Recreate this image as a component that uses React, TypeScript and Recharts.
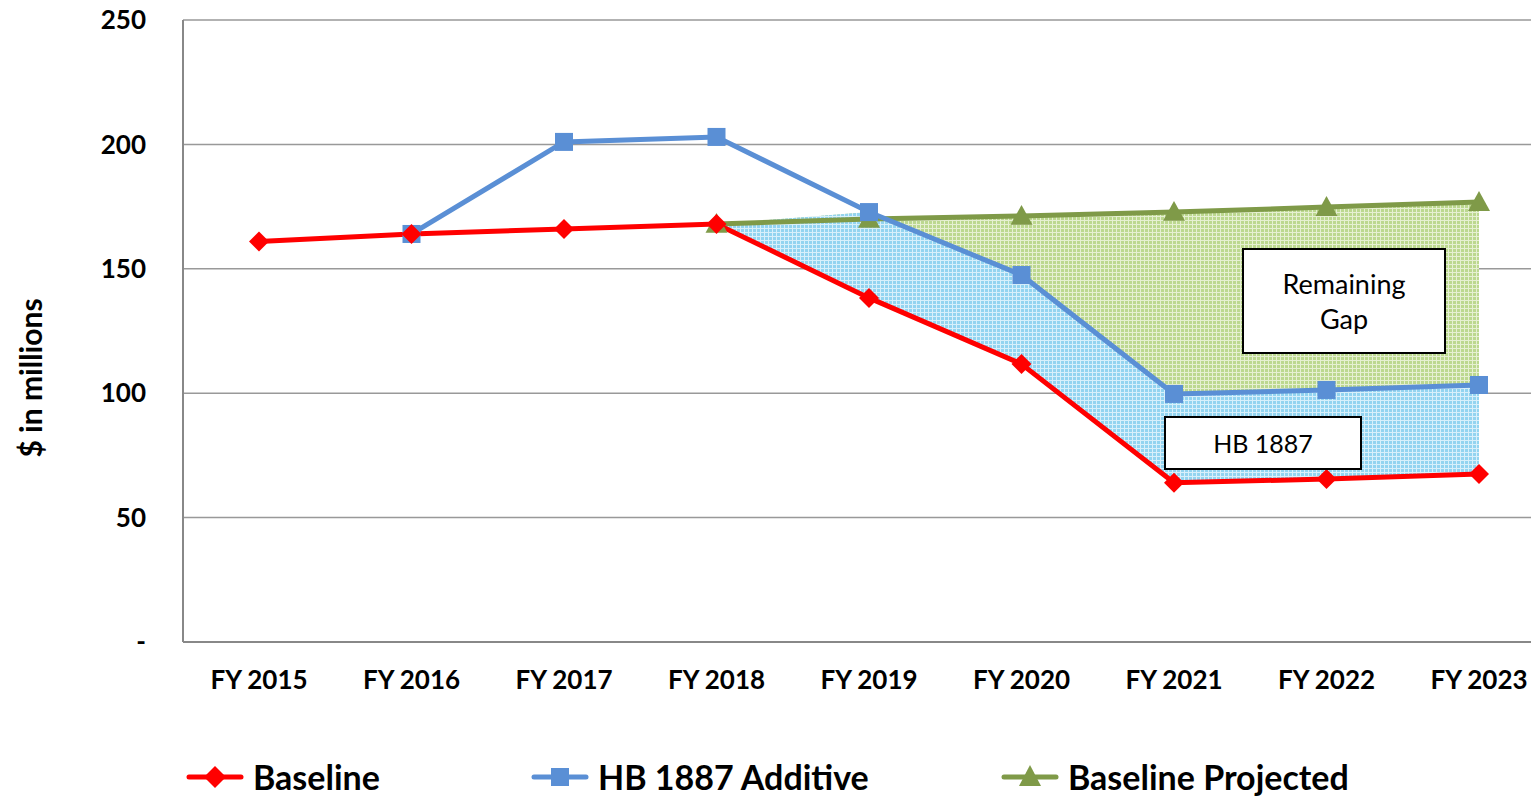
import React from "react"
import {
  Area,
  CartesianGrid,
  ComposedChart,
  Line,
  XAxis,
  YAxis,
} from "recharts"

const years = [
  "FY 2015",
  "FY 2016",
  "FY 2017",
  "FY 2018",
  "FY 2019",
  "FY 2020",
  "FY 2021",
  "FY 2022",
  "FY 2023",
]

const baseline = [161, 164, 166, 168, 138.3, 111.7, 64, 65.5, 67.5]
const hbAdditive = [null, 164, 201, 203, 172.8, 147.5, 99.7, 101.3, 103.3]
const projected = [null, null, null, 168, 170, 171.2, 172.8, 174.8, 176.8]
// top of the shaded HB 1887 band (starts where the projection starts)
const hbBandTop = [null, null, null, 168, 172.8, 147.5, 99.7, 101.3, 103.3]

const yTicks = [0, 50, 100, 150, 200, 250]

const RED = "#ff0000"
const BLUE = "#5a8fd5"
const GREEN = "#7f9a48"
const FONT = "Lato, 'Open Sans', sans-serif"

const data = years.map((name, i) => ({
  name,
  baseline: baseline[i],
  hb: hbAdditive[i],
  projected: projected[i],
  hbBand: hbBandTop[i] == null ? null : [baseline[i], hbBandTop[i]],
  gapBand:
    hbBandTop[i] == null || projected[i] == null
      ? null
      : [hbBandTop[i], projected[i]],
}))

const Diamond = (props: any) => {
  const { cx, cy, index } = props
  if (cx == null || cy == null || props.value == null) return <g key={index} />
  const s = 10
  return (
    <path
      key={index}
      d={`M${cx},${cy - s} L${cx + s},${cy} L${cx},${cy + s} L${cx - s},${cy} Z`}
      fill={RED}
    />
  )
}

const Square = (props: any) => {
  const { cx, cy, index } = props
  if (cx == null || cy == null || props.value == null) return <g key={index} />
  const s = 9
  return <rect key={index} x={cx - s} y={cy - s} width={s * 2} height={s * 2} fill={BLUE} />
}

const Triangle = (props: any) => {
  const { cx, cy, index } = props
  if (cx == null || cy == null || props.value == null) return <g key={index} />
  const s = 11
  return (
    <path
      key={index}
      d={`M${cx},${cy - s} L${cx + s},${cy + s * 0.8} L${cx - s},${cy + s * 0.8} Z`}
      fill={GREEN}
    />
  )
}

const legendItems = [
  { label: "Baseline", color: RED, shape: "diamond", left: 178 },
  { label: "HB 1887 Additive", color: BLUE, shape: "square", left: 523 },
  { label: "Baseline Projected", color: GREEN, shape: "triangle", left: 993 },
]

function LegendIcon({ color, shape }: { color: string; shape: string }) {
  return (
    <svg width={58} height={30} style={{ display: "block" }}>
      <line x1={3} y1={15} x2={55} y2={15} stroke={color} strokeWidth={5} strokeLinecap="round" />
      {shape === "diamond" && <path d="M29,4 L40,15 L29,26 L18,15 Z" fill={color} />}
      {shape === "square" && <rect x={20} y={6} width={18} height={18} fill={color} />}
      {shape === "triangle" && <path d="M29,3 L40,24 L18,24 Z" fill={color} />}
    </svg>
  )
}

const boxStyle: React.CSSProperties = {
  position: "absolute",
  background: "#fff",
  border: "2px solid #000",
  boxSizing: "border-box",
  display: "flex",
  alignItems: "center",
  justifyContent: "center",
  textAlign: "center",
  fontFamily: FONT,
  lineHeight: "35px",
  color: "#000",
}

export default function App() {
  return (
    <div
      style={{
        position: "relative",
        width: 1531,
        height: 797,
        marginTop: -8,
        overflow: "hidden",
        background: "#fff",
        fontFamily: FONT,
      }}
    >
      <ComposedChart
        width={1547}
        height={708}
        data={data}
        margin={{ top: 20, right: 0, bottom: 0, left: 0 }}
        style={{ fontFamily: FONT }}
      >
        <defs>
          <pattern id="bluePat" width={4} height={4} patternUnits="userSpaceOnUse">
            <rect width={4} height={4} fill="#93d4f0" />
            <rect width={4} height={1} fill="#d8f0fb" />
            <rect width={1} height={4} fill="#d8f0fb" />
          </pattern>
          <pattern id="greenPat" width={4} height={4} patternUnits="userSpaceOnUse">
            <rect width={4} height={4} fill="#bcd88f" />
            <rect width={4} height={1} fill="#e6f0d2" />
            <rect width={1} height={4} fill="#e6f0d2" />
          </pattern>
        </defs>
        <CartesianGrid vertical={false} stroke="#999" strokeWidth={1.5} />
        <XAxis
          dataKey="name"
          axisLine={{ stroke: "#888", strokeWidth: 2 }}
          tickLine={false}
          tickSize={0}
          tickMargin={29}
          height={66}
          interval={0}
          padding={{ left: 76, right: 76 }}
          tick={{ fontSize: 26, fontWeight: 700, fill: "#000", fontFamily: FONT }}
        />
        <YAxis
          domain={[0, 250]}
          ticks={yTicks}
          width={175}
          axisLine={{ stroke: "#888", strokeWidth: 2 }}
          tickLine={false}
          tickSize={0}
          tickMargin={37}
          tickFormatter={(v: number) => (v === 0 ? "-" : String(v))}
          tick={{ fontSize: 26, fontWeight: 700, fill: "#000", fontFamily: FONT }}
        />
        <Area
          dataKey="gapBand"
          stroke="none"
          fill="url(#greenPat)"
          fillOpacity={1}
          isAnimationActive={false}
          connectNulls={false}
        />
        <Area
          dataKey="hbBand"
          stroke="none"
          fill="url(#bluePat)"
          fillOpacity={1}
          isAnimationActive={false}
          connectNulls={false}
        />
        <Line
          dataKey="projected"
          stroke={GREEN}
          strokeWidth={5}
          dot={Triangle}
          activeDot={false}
          isAnimationActive={false}
        />
        <Line
          dataKey="hb"
          stroke={BLUE}
          strokeWidth={5}
          dot={Square}
          activeDot={false}
          isAnimationActive={false}
        />
        <Line
          dataKey="baseline"
          stroke={RED}
          strokeWidth={5}
          dot={Diamond}
          activeDot={false}
          isAnimationActive={false}
        />
      </ComposedChart>

      <div
        style={{
          position: "absolute",
          left: 22,
          top: 378,
          transform: "translate(-50%, -50%) rotate(-90deg)",
          whiteSpace: "nowrap",
          fontSize: 30,
          fontWeight: 700,
          color: "#000",
        }}
      >
        $ in millions
      </div>

      <div style={{ ...boxStyle, left: 1234, top: 248, width: 204, height: 106, fontSize: 27 }}>
        Remaining
        <br />
        Gap
      </div>
      <div style={{ ...boxStyle, left: 1156, top: 416, width: 198, height: 54, fontSize: 25 }}>
        HB 1887
      </div>

      {legendItems.map((it) => (
        <div
          key={it.label}
          style={{
            position: "absolute",
            left: it.left,
            top: 760,
            height: 34,
            display: "flex",
            alignItems: "center",
            gap: 9,
            fontSize: 34,
            lineHeight: "34px",
            fontWeight: 700,
            color: "#000",
            whiteSpace: "nowrap",
          }}
        >
          <LegendIcon color={it.color} shape={it.shape} />
          <span>{it.label}</span>
        </div>
      ))}
    </div>
  )
}
